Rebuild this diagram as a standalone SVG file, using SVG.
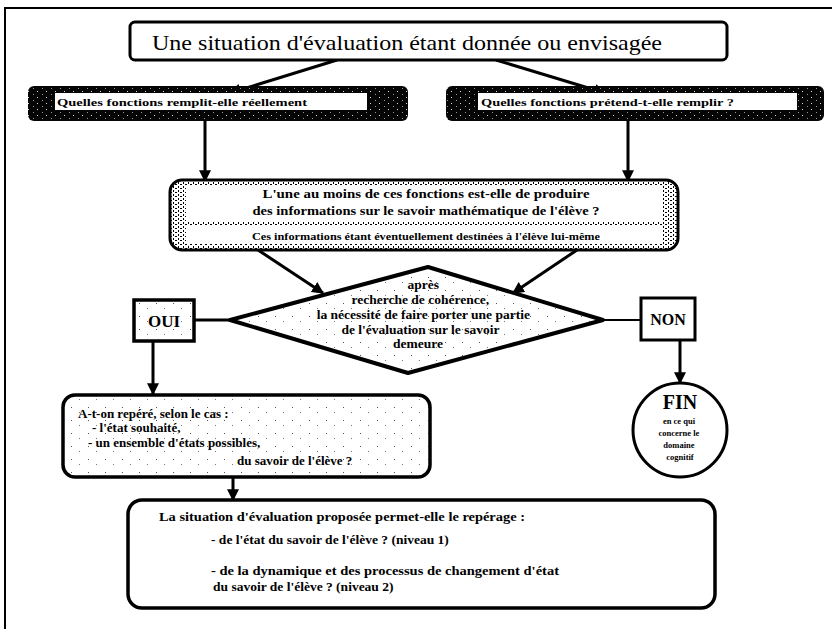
<svg xmlns="http://www.w3.org/2000/svg" width="832" height="629" viewBox="0 0 832 629">
<defs>
<style>
.t{font-family:"Liberation Serif","Times New Roman",serif;font-weight:bold;fill:#000}
.box{fill:#fff;stroke:#000;stroke-width:3}
.ln{stroke:#000;stroke-width:3;fill:none}
.thin{stroke:#000;stroke-width:2;fill:none}
</style>
<pattern id="speckW" width="9" height="6" patternUnits="userSpaceOnUse"><rect width="9" height="6" fill="#050505"/><rect x="1" y="1" width="1" height="1" fill="#ddd"/><rect x="6" y="4" width="1" height="1" fill="#999"/></pattern>
<pattern id="speckB" width="5" height="4" patternUnits="userSpaceOnUse"><rect width="5" height="4" fill="#fff"/><rect x="0" y="0" width="2" height="1" fill="#000"/><rect x="3" y="2" width="1" height="2" fill="#000"/></pattern>
<pattern id="sparse" width="17" height="13" patternUnits="userSpaceOnUse"><rect width="17" height="13" fill="#fff"/><rect x="3" y="4" width="1" height="1" fill="#555"/><rect x="11" y="9" width="1" height="1" fill="#777"/></pattern>
<marker id="ah" viewBox="0 0 10 10" refX="9" refY="5" markerWidth="4" markerHeight="4" orient="auto"><path d="M0,0 L10,5 L0,10 z" fill="#000"/></marker>
</defs>
<rect width="832" height="629" fill="#fff"/>
<path d="M5,629 V8 H832" class="thin"/>

<g id="connectors">
<path d="M337,60 L230,93" class="ln" stroke-width="4" marker-end="url(#ah)"/>
<path d="M496,60 L605,93" class="ln" stroke-width="4" marker-end="url(#ah)"/>
<path d="M205,121 V181" class="ln" marker-end="url(#ah)"/>
<path d="M628,121 V181" class="ln" marker-end="url(#ah)"/>
<path d="M258,250 L323,293" class="ln" stroke-width="4" marker-end="url(#ah)"/>
<path d="M577,250 L513,293" class="ln" stroke-width="4" marker-end="url(#ah)"/>
<path d="M194,320 H232" class="ln"/>
<path d="M601,320 H641" class="thin"/>
<path d="M153,341 V394" class="ln" marker-end="url(#ah)"/>
<path d="M680,340 V383" class="ln" marker-end="url(#ah)"/>
<path d="M233,477 V500" class="ln" marker-end="url(#ah)"/>
</g>

<g id="title">
<rect x="130" y="22" width="597" height="38" rx="5" class="box" stroke-width="2.5"/>
<text x="152" y="50" font-family="Liberation Serif, serif" font-size="21" textLength="510" lengthAdjust="spacingAndGlyphs">Une situation d'évaluation étant donnée ou envisagée</text>
</g>

<g id="q-left">
<rect x="28" y="86" width="380" height="35" rx="6" fill="url(#speckW)"/>
<rect x="55" y="93" width="312" height="17" fill="#fff"/>
<text x="57" y="106" class="t" font-size="11" textLength="250" lengthAdjust="spacingAndGlyphs">Quelles fonctions remplit-elle réellement</text>
</g>

<g id="q-right">
<rect x="446" y="86" width="378" height="35" rx="6" fill="url(#speckW)"/>
<rect x="478" y="93" width="319" height="17" fill="#fff"/>
<text x="481" y="106" class="t" font-size="11" textLength="253" lengthAdjust="spacingAndGlyphs">Quelles fonctions prétend-t-elle remplir ?</text>
</g>

<g id="question">
<rect x="170" y="180" width="508" height="70" rx="12" fill="url(#speckB)" stroke="#000" stroke-width="3"/>
<rect x="186" y="185" width="477" height="36" fill="#fff"/>
<rect x="186" y="226" width="477" height="18" fill="#fff"/>
<text x="426" y="198" class="t" font-size="13" text-anchor="middle" textLength="327" lengthAdjust="spacingAndGlyphs">L'une au moins de ces fonctions est-elle de produire</text>
<text x="426" y="215" class="t" font-size="13" text-anchor="middle" textLength="347" lengthAdjust="spacingAndGlyphs">des informations sur le savoir mathématique de l'élève ?</text>
<text x="426" y="240" class="t" font-size="11" text-anchor="middle" textLength="348" lengthAdjust="spacingAndGlyphs">Ces informations étant éventuellement destinées à l'élève lui-même</text>
</g>

<g id="decision">
<polygon points="230,320 428,267 603,320 408,373" fill="url(#sparse)" stroke="#000" stroke-width="4" stroke-linejoin="round"/>
<text class="t" font-size="13.5" text-anchor="middle">
<tspan x="425" y="289">après</tspan>
<tspan x="422" y="304">recherche de cohérence,</tspan>
<tspan x="425" y="319">la nécessité de faire porter une partie</tspan>
<tspan x="422" y="334">de l'évaluation  sur le savoir</tspan>
<tspan x="418" y="348">demeure</tspan>
</text>
</g>

<g id="oui">
<rect x="134" y="300" width="60" height="41" fill="url(#sparse)" stroke="#000" stroke-width="3.5"/>
<text x="164" y="327" class="t" font-size="17" text-anchor="middle">OUI</text>
</g>

<g id="non">
<rect x="641" y="298" width="54" height="42" fill="#fff" stroke="#000" stroke-width="3"/>
<text x="668" y="325" class="t" font-size="16" text-anchor="middle">NON</text>
</g>

<g id="fin">
<circle cx="680" cy="430" r="47" fill="#fff" stroke="#000" stroke-width="3"/>
<text x="680" y="409" class="t" font-size="20" text-anchor="middle">FIN</text>
<text class="t" font-size="8.5" text-anchor="middle">
<tspan x="680" y="424">en ce qui</tspan>
<tspan x="680" y="436">concerne le</tspan>
<tspan x="680" y="448">domaine</tspan>
<tspan x="680" y="460">cognitif</tspan>
</text>
</g>

<g id="reperage">
<rect x="63" y="395" width="367" height="82" rx="12" fill="url(#sparse)" stroke="#000" stroke-width="3.5"/>
<text class="t" font-size="13">
<tspan x="78" y="418">A-t-on repéré, selon le cas :</tspan>
<tspan x="92" y="432">- l'état souhaité,</tspan>
<tspan x="88" y="447">- un ensemble d'états possibles,</tspan>
<tspan x="237" y="465">du savoir de l'élève ?</tspan>
</text>
</g>

<g id="niveaux">
<rect x="128" y="500" width="587" height="108" rx="14" fill="#fff" stroke="#000" stroke-width="3.5"/>
<text class="t" font-size="13.5">
<tspan x="159" y="521" textLength="366" lengthAdjust="spacingAndGlyphs">La situation d'évaluation proposée permet-elle le repérage :</tspan>
<tspan x="211" y="544">- de l'état du savoir de l'élève ? (niveau 1)</tspan>
<tspan x="211" y="575" textLength="348" lengthAdjust="spacingAndGlyphs">- de la dynamique et des processus de changement d'état</tspan>
<tspan x="213" y="591">du savoir de l'élève ?  (niveau 2)</tspan>
</text>
</g>
</svg>
